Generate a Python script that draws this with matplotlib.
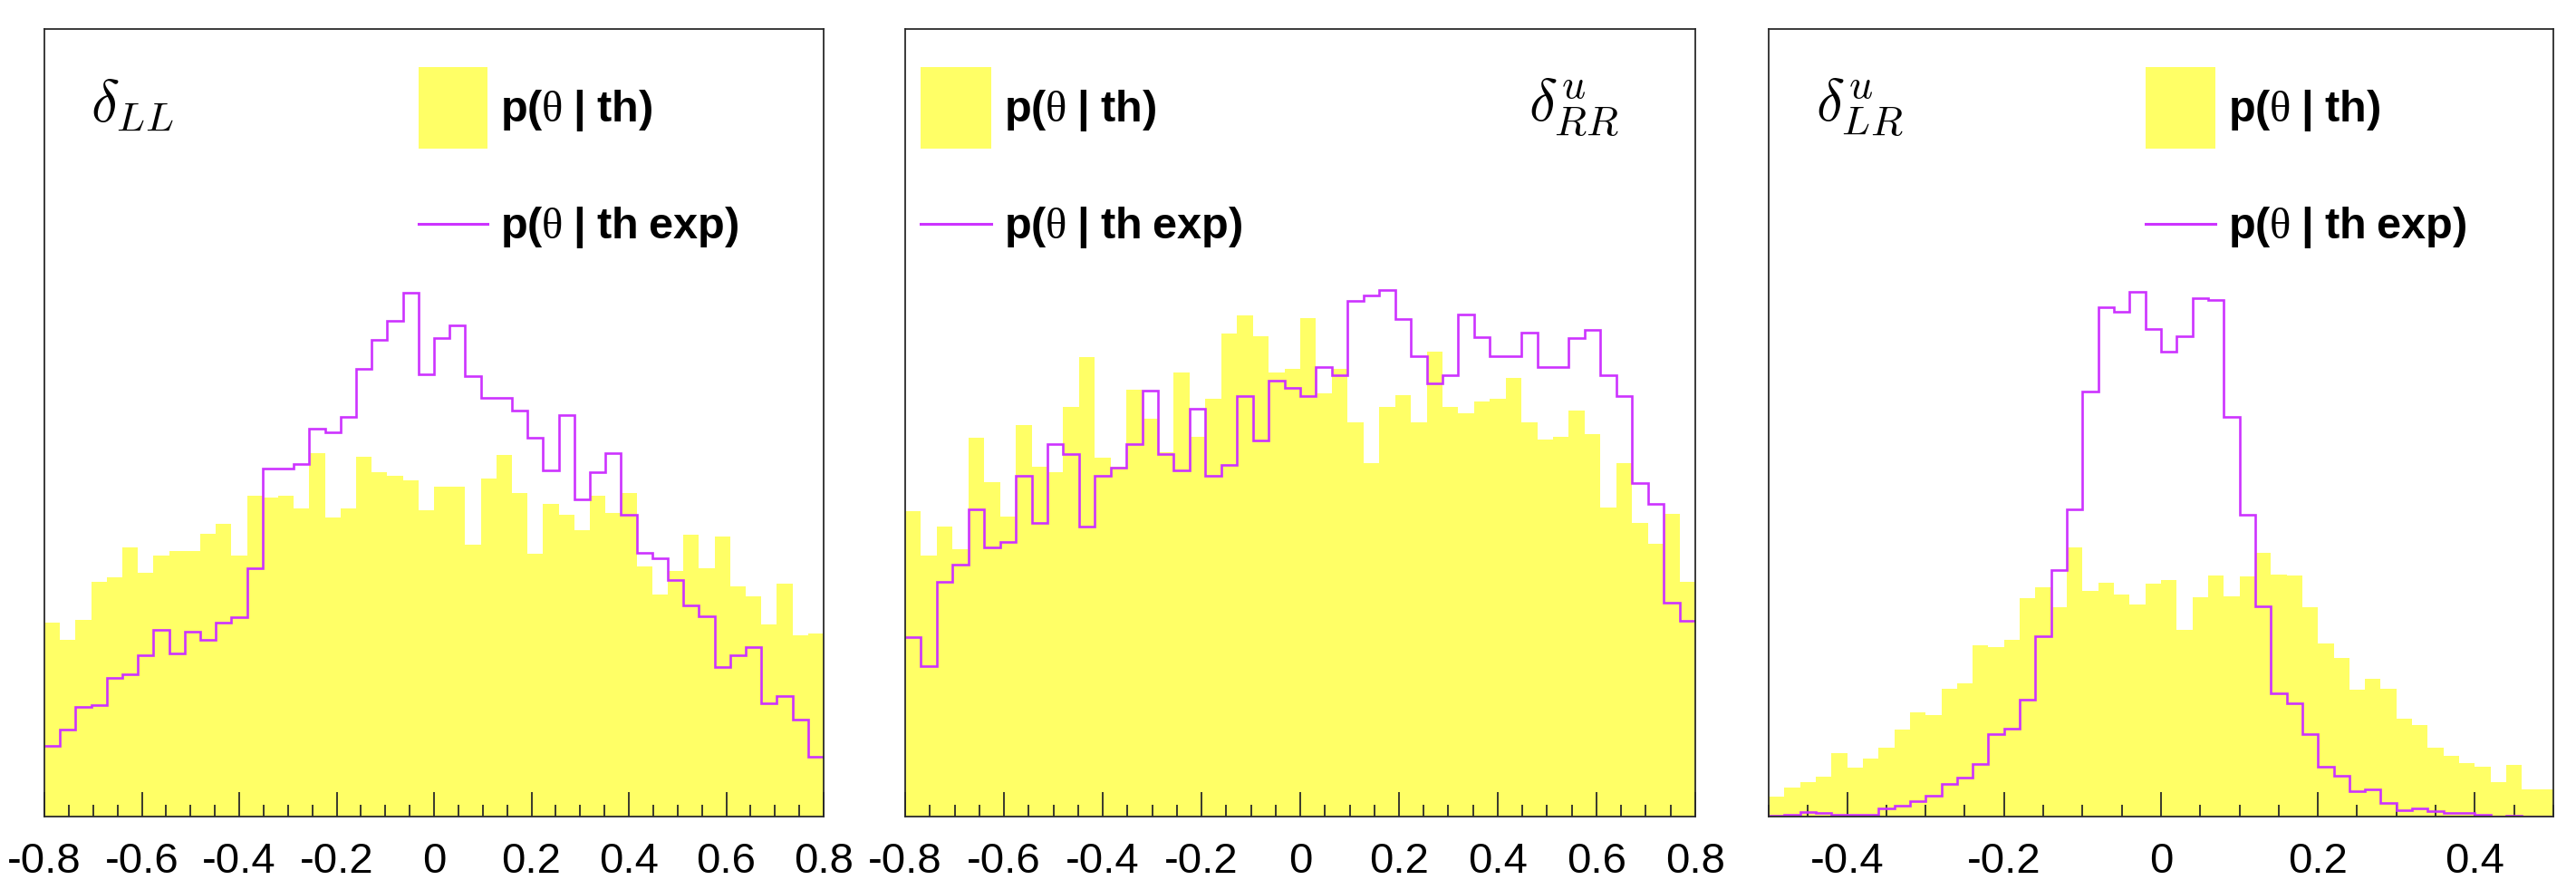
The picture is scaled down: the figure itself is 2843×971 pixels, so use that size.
"""Three-panel comparison of p(theta | th) and p(theta | th exp) histograms."""
import matplotlib
matplotlib.use("Agg")
import matplotlib.pyplot as plt
import numpy as np
from matplotlib.lines import Line2D
from matplotlib.patches import Rectangle
from matplotlib.ticker import MultipleLocator

plt.rcParams["font.family"] = ["Liberation Sans", "DejaVu Sans"]
plt.rcParams["mathtext.fontset"] = "custom"
plt.rcParams["mathtext.rm"] = "Liberation Serif"
plt.rcParams["mathtext.it"] = "Liberation Serif:italic"
plt.rcParams["mathtext.bf"] = "Liberation Sans:bold"

YELLOW = "#ffff66"
PURPLE = "#cc33ff"
FRAME = "#2a2a2a"
N_BINS = 50

LABEL_TH = r"$\mathbf{p(}\mathrm{\theta}\mathbf{\ |\ th)}$"
LABEL_EXP = r"$\mathbf{p(}\mathrm{\theta}\mathbf{\ |\ th\ exp)}$"

# --- delta_LL ---------------------------------------------------------
ll_range = (-0.8, 0.8)
ll_ticks = [-0.8, -0.6, -0.4, -0.2, 0.0, 0.2, 0.4, 0.6, 0.8]
ll_th = [540, 493, 548, 655, 668, 750, 680, 728, 740, 740,
         788, 817, 728, 895, 890, 895, 860, 1015, 835, 860,
         1003, 960, 950, 938, 855, 920, 920, 758, 943, 1009,
         902, 733, 872, 842, 800, 895, 847, 902, 698, 620,
         685, 787, 692, 782, 643, 614, 536, 650, 507, 512]
ll_exp = [198, 242, 307, 310, 387, 397, 450, 520, 455, 515,
          493, 542, 557, 692, 970, 970, 985, 1083, 1072, 1115,
          1250, 1330, 1383, 1463, 1233, 1335, 1372, 1228, 1169, 1169,
          1132, 1057, 967, 1120, 885, 960, 1014, 842, 735, 720,
          660, 590, 558, 418, 450, 472, 317, 337, 270, 167]

# --- delta^u_RR -------------------------------------------------------
rr_range = (-0.8, 0.8)
rr_ticks = [-0.8, -0.6, -0.4, -0.2, 0.0, 0.2, 0.4, 0.6, 0.8]
rr_th = [852, 729, 810, 746, 1058, 934, 836, 1092, 977, 960,
         1142, 1282, 1001, 977, 1192, 1110, 1017, 1240, 1059, 1167,
         1349, 1398, 1340, 1240, 1250, 1390, 1182, 1250, 1101, 986,
         1142, 1175, 1101, 1298, 1142, 1126, 1158, 1167, 1225, 1101,
         1053, 1059, 1134, 1067, 862, 986, 819, 762, 844, 655]
rr_exp = [502, 420, 656, 702, 857, 752, 767, 952, 819, 1040,
          1012, 810, 952, 974, 1040, 1189, 1012, 967, 1137, 952,
          982, 1174, 1049, 1217, 1196, 1174, 1255, 1232, 1440, 1454,
          1470, 1389, 1284, 1210, 1232, 1402, 1337, 1284, 1284, 1350,
          1255, 1255, 1336, 1359, 1232, 1174, 930, 872, 597, 547]

# --- delta^u_LR -------------------------------------------------------
lr_range = (-0.5, 0.5)
lr_ticks = [-0.4, -0.2, 0.0, 0.2, 0.4]
lr_th = [55, 82, 95, 112, 177, 137, 162, 192, 242, 290,
         284, 357, 372, 479, 474, 492, 610, 640, 585, 752,
         629, 652, 619, 592, 649, 660, 520, 611, 674, 614,
         671, 737, 676, 674, 584, 482, 442, 355, 385, 357,
         272, 256, 192, 170, 150, 138, 96, 144, 77, 77]
lr_exp = [2, 5, 12, 9, 6, 6, 4, 22, 30, 42,
          57, 92, 109, 147, 229, 245, 325, 504, 687, 857,
          1185, 1422, 1409, 1465, 1360, 1297, 1341, 1447, 1442, 1115,
          842, 587, 345, 317, 230, 140, 115, 72, 75, 39,
          17, 22, 14, 9, 11, 4, 1, 3, 1, 1]

Y_TOP = 2198


def tick_label(t):
    return "0" if abs(t) < 1e-9 else f"{t:g}"


def draw_panel(ax, lo, hi, ticks, th, exp, name, name_x, key_x):
    edges = np.linspace(lo, hi, N_BINS + 1)
    ax.stairs(th, edges, fill=True, color=YELLOW, lw=0, zorder=1)
    ax.stairs(exp, edges, baseline=None, color=PURPLE, lw=1.9, zorder=2)

    ax.set_xlim(lo, hi)
    ax.set_ylim(0, Y_TOP)
    ax.set_yticks([])
    ax.set_xticks(ticks, labels=[tick_label(t) for t in ticks])
    ax.xaxis.set_minor_locator(MultipleLocator(0.05))
    ax.tick_params(axis="x", which="both", direction="in", top=False,
                   labelsize=34, pad=20, width=1.3, color=FRAME)
    ax.tick_params(axis="x", which="major", length=19.5)
    ax.tick_params(axis="x", which="minor", length=9.5)
    for sp in ax.spines.values():
        sp.set_color(FRAME)
        sp.set_linewidth(1.3)

    # panel name, latex style
    ax.text(name_x, 0.883, name, transform=ax.transAxes, fontsize=47,
            va="baseline", ha="left", math_fontfamily="cm")

    # ROOT-style legend: filled box and line key
    ax.add_patch(Rectangle((key_x, 0.848), 0.089, 0.104, transform=ax.transAxes,
                           facecolor=YELLOW, edgecolor="none", zorder=3))
    ax.add_line(Line2D([key_x, key_x + 0.089], [0.7530, 0.7530],
                       transform=ax.transAxes, color=PURPLE, lw=2.2, zorder=3))
    ax.text(key_x + 0.105, 0.8826, LABEL_TH, transform=ax.transAxes,
            fontsize=35, va="baseline", ha="left")
    ax.text(key_x + 0.105, 0.7342, LABEL_EXP, transform=ax.transAxes,
            fontsize=35, va="baseline", ha="left")


def main():
    fig = plt.figure(figsize=(28.43, 9.71), dpi=100)
    bottom, height = 0.0721, 0.895
    ax1 = fig.add_axes([0.01724, bottom, 0.3025, height])
    ax2 = fig.add_axes([0.3514, bottom, 0.3067, height])
    ax3 = fig.add_axes([0.6866, bottom, 0.3046, height])

    draw_panel(ax1, *ll_range, ll_ticks, ll_th, ll_exp,
               r"$\delta_{LL}$", 0.059, 0.480)
    draw_panel(ax2, *rr_range, rr_ticks, rr_th, rr_exp,
               r"$\delta^{u}_{RR}$", 0.789, 0.0195)
    draw_panel(ax3, *lr_range, lr_ticks, lr_th, lr_exp,
               r"$\delta^{u}_{LR}$", 0.060, 0.480)

    fig.savefig("out.png", dpi=100)


if __name__ == "__main__":
    main()
